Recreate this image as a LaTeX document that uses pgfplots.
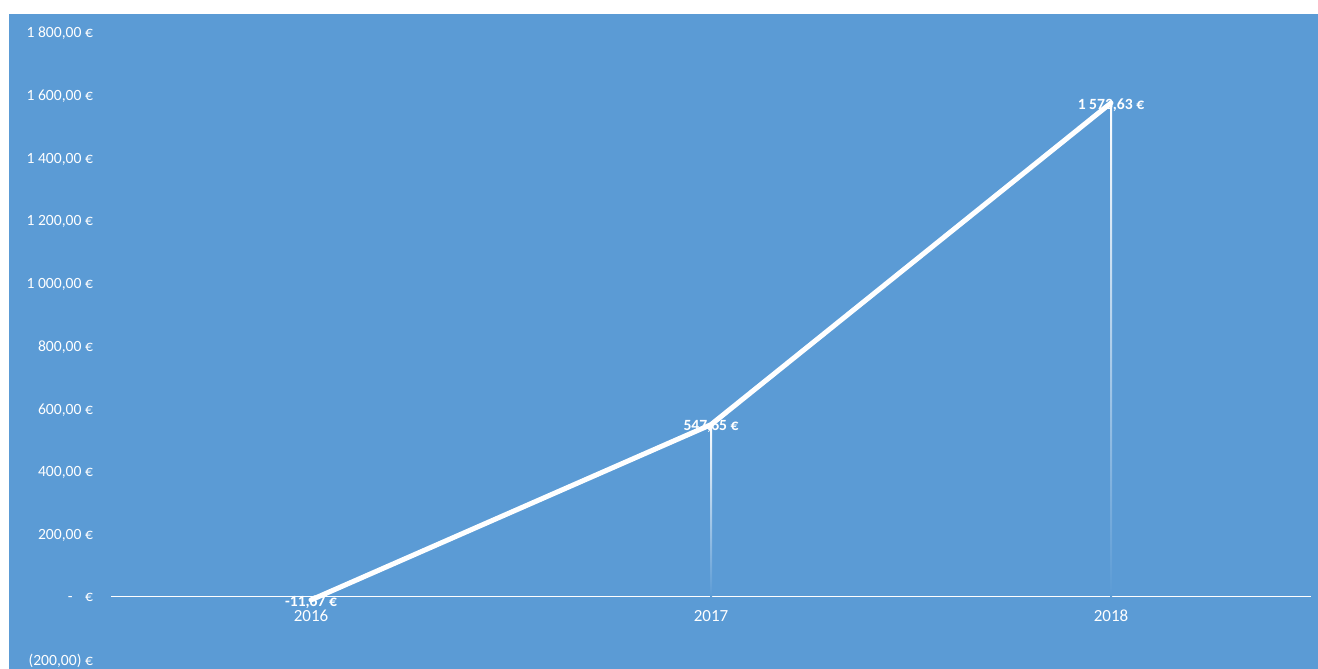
\documentclass[border=0pt]{standalone}
\usepackage{fontspec}
\setmainfont{Carlito}
\usepackage{pgfplots}
\pgfplotsset{compat=1.18}
\definecolor{bg}{HTML}{5B9BD5}
\begin{document}
\begin{tikzpicture}
\path[use as bounding box] (-55.5pt,-5pt) rectangle (603.5pt,329.5pt);
\fill[bg] (-51pt,-5pt) rectangle (603.5pt,322.5pt);
\begin{axis}[
  scale only axis, width=600pt, height=313.5pt,
  xmin=-0.5, xmax=2.5, ymin=-200, ymax=1800,
  axis x line*=middle, axis y line*=left,
  x axis line style={white, line width=0.7pt},
  y axis line style={draw=none},
  hide obscured x ticks=false, hide obscured y ticks=false,
  major tick length=0pt,
  xtick={0,1,2}, xticklabels={2016,2017,2018},
  ytick={-200,0,200,400,600,800,1000,1200,1400,1600,1800},
  yticklabels={{(200,00) €},{-\hspace{0.8em}€},{200,00 €},{400,00 €},{600,00 €},{800,00 €},{1 000,00 €},{1 200,00 €},{1 400,00 €},{1 600,00 €},{1 800,00 €}},
  xticklabel style={text=white, font=\fontsize{8.5}{10}\selectfont, yshift=-3.5pt},
  yticklabel style={text=white, font=\fontsize{7.8}{9}\selectfont, xshift=-5.5pt, yshift=-0.8pt},
  clip=false,
]
\addplot[ybar, bar width=1pt, bar shift=0pt, draw=none, top color=white, middle color=white, bottom color=bg] coordinates {(1,547.65)};
\addplot[ybar, bar width=1pt, bar shift=0pt, draw=none, top color=white, middle color=white, bottom color=bg] coordinates {(2,1573.63)};
\addplot[draw=none, nodes near coords, point meta=explicit symbolic,
  nodes near coords style={anchor=center, yshift=-1pt, text=white, font=\bfseries\fontsize{7.8}{9}\selectfont}]
  coordinates {(0,-11.67) [-11,67 €] (1,547.65) [547,65 €] (2,1573.63) [1 573,63 €]};
\addplot[white, line width=2.5pt, line cap=round, line join=round]
  coordinates {(0,-11.67) (1,547.65) (2,1573.63)};
\end{axis}
\end{tikzpicture}
\end{document}
